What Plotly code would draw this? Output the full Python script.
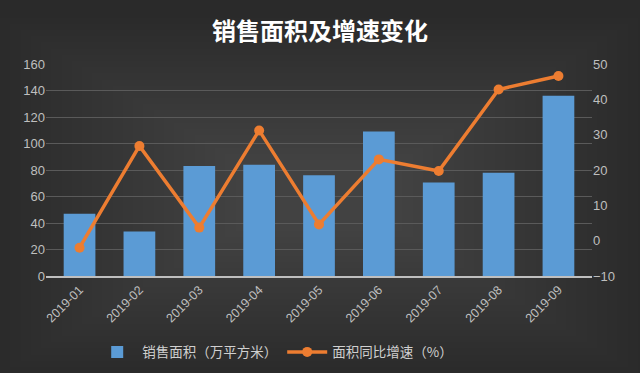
import plotly.graph_objects as go

months = ["2019-01", "2019-02", "2019-03", "2019-04", "2019-05", "2019-06", "2019-07", "2019-08", "2019-09"]
area = [47, 33.5, 83, 84, 76, 109, 70.5, 78, 136]
growth = [-2, 26.8, 3.7, 31.2, 4.6, 23, 19.7, 42.8, 46.6]

fig = go.Figure()
fig.add_trace(go.Bar(x=months, y=area, name="销售面积（万平方米）",
                     marker=dict(color="#5b9bd5", line=dict(width=0)), yaxis="y"))
fig.add_trace(go.Scatter(x=months, y=growth, name="面积同比增速（%）", mode="lines+markers",
                         line=dict(color="#ed7d31", width=3.5),
                         marker=dict(color="#ed7d31", size=10), yaxis="y2"))

# soft radial-ish background glow
shapes = []
n = 24
for i in range(n):
    f = i / n
    shapes.append(dict(type="rect", xref="paper", yref="paper", layer="below",
                       x0=-0.085 + f * 0.45, x1=1.085 - f * 0.45,
                       y0=-0.46 + f * 0.7, y1=1.22 - f * 0.7,
                       fillcolor="rgba(255,255,255,0.008)", line=dict(width=0)))

font_fam = "Noto Sans CJK SC, Liberation Sans, sans-serif"
fig.update_layout(
    width=640, height=373,
    paper_bgcolor="#2a2a2a", plot_bgcolor="rgba(0,0,0,0)",
    margin=dict(l=46, r=48, t=64, b=97, autoexpand=False),
    shapes=shapes,
    title=dict(text="<b>销售面积及增速变化</b>", x=0.5, xanchor="center", y=0.915, yanchor="middle",
               font=dict(family=font_fam, size=24, color="#ffffff")),
    bargap=0.47,
    showlegend=True,
    legend=dict(orientation="h", xref="container", yref="container", x=0.43, xanchor="center",
                y=0.056, yanchor="middle",
                font=dict(family=font_fam, size=13.5, color="#d0d0d0"), bgcolor="rgba(0,0,0,0)",
                itemwidth=40),
    xaxis=dict(type="category", tickangle=-45, automargin=False,
               tickfont=dict(family="Liberation Sans, sans-serif", size=12.5, color="#bfbfbf"),
               showgrid=False, showline=True, linecolor="#bfbfbf", linewidth=1.5, ticks=""),
    yaxis=dict(range=[0, 160], dtick=20, automargin=False,
               tickfont=dict(family="Liberation Sans, sans-serif", size=13, color="#bfbfbf"),
               showgrid=True, gridcolor="#5a5a5a", gridwidth=1, zeroline=False, ticks=""),
    yaxis2=dict(range=[-10, 50], dtick=10, overlaying="y", side="right", automargin=False,
                tickfont=dict(family="Liberation Sans, sans-serif", size=13, color="#bfbfbf"),
                showgrid=False, zeroline=False, ticks=""),
)
fig.write_html("out.html", config={"displayModeBar": False},
               post_script="document.body.style.margin='0';document.body.style.background='#2a2a2a';")
